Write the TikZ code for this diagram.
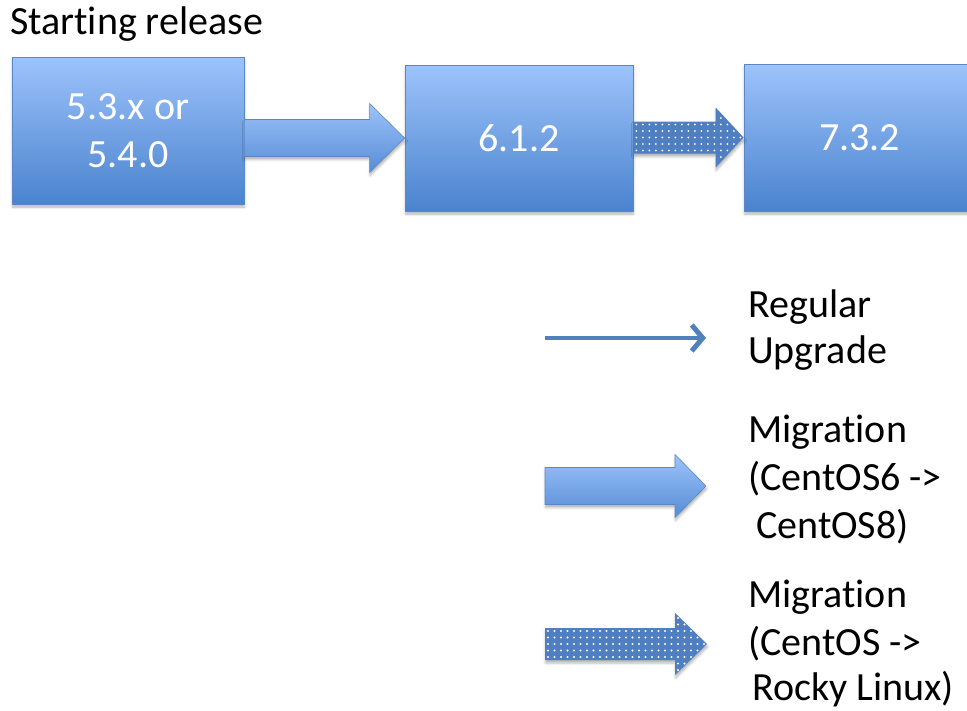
\documentclass[tikz,border=0pt]{standalone}
\usepackage{fontspec}
\setmainfont{Carlito}[Ligatures={NoCommon}]
\usetikzlibrary{calc,shadows.blur,arrows.meta}
\definecolor{boxtop}{HTML}{9DC3FB}
\definecolor{boxbot}{HTML}{4A83CE}
\definecolor{boxline}{HTML}{5A88C6}
\definecolor{dotblue}{HTML}{4F7FC1}
\definecolor{lineblue}{HTML}{4F81BD}
% arrow outline: start, tip, shaft half, head half, head length
\newcommand{\arrowshape}[5]{(#1) ++(0,-#3) -- ($(#2)+(-#5,-#3)$) -- ($(#2)+(-#5,-#4)$) -- (#2)
    -- ($(#2)+(-#5,#4)$) -- ($(#2)+(-#5,#3)$) -- ($(#1)+(0,#3)$) -- cycle}
\newcommand{\barrow}[6]{\path[#1] \arrowshape{#2}{#3}{#4}{#5}{#6};}
\newcommand{\dotarrow}[6]{% length of box (px) as #6
  \path[dotbase] \arrowshape{#1}{#2}{#3}{#4}{#5};
  \begin{scope}
    \clip \arrowshape{#1}{#2}{#3}{#4}{#5};
    \foreach \dx in {3,9.5,...,#6} {
      \foreach \dy in {-32.5,-26,...,33} {
        \fill[white] ($(#1)+(\dx,\dy)$) circle (1.05pt);
      }
    }
  \end{scope}}
\begin{document}
\begin{tikzpicture}[x=1pt,y=-1pt,
  bigfont/.style={font=\fontsize{40}{47.5}\selectfont},
  txt/.style={bigfont, inner sep=0pt, anchor=base west, text=black},
  softshadow/.style={blur shadow={shadow xshift=0.5pt, shadow yshift=-3pt, shadow blur radius=2.5pt, shadow opacity=30}},
  verbox/.style={draw=boxline, line width=0.8pt, top color=boxtop, bottom color=boxbot,
    text=white, bigfont, align=center, inner sep=0pt, softshadow},
  shadedarrow/.style={draw=boxline, line width=0.6pt, top color=boxtop, bottom color=boxbot!85!boxtop, softshadow},
  dotbase/.style={fill=dotblue, softshadow},
  thinarrow/.style={draw=lineblue, line width=4.5pt, -{Straight Barb[length=11pt, width=26pt, line width=5pt]}}
]
\useasboundingbox (0,0) rectangle (967,710);

\node[txt] (start) at (10,34) {Starting release};

\node[verbox, minimum width=232pt, minimum height=147pt] (box1) at (128,130.5) {5.3.x or\\5.4.0};
\node[verbox, minimum width=228pt, minimum height=146pt] (box2) at (519,138) {6.1.2};
\node[verbox, minimum width=231pt, minimum height=147pt] (box3) at (859.5,137.5) {7.3.2};

% connectors between boxes
\coordinate (a1s) at (box1.east |- box2.west);
\barrow{shadedarrow}{a1s}{box2.west}{18.5}{34.5}{35}
\coordinate (a2s) at (box2.east |- box3.west);
\dotarrow{a2s}{box3.west}{16}{30}{28}{115}

% legend
\coordinate (lg1s) at (545,338);
\coordinate (lg1t) at (706,338);
\draw[thinarrow] (lg1s) -- (lg1t);
\node[txt] (reg1) at (748,317) {Regular};
\node[txt] (reg2) at (748,363) {Upgrade};

\coordinate (lg2s) at (545,486);
\coordinate (lg2t) at (706,486);
\barrow{shadedarrow}{lg2s}{lg2t}{18.5}{31.5}{31}
\node[txt] (mig1) at (748,442) {Migration};
\node[txt] (mig2) at (748,490) {(CentOS6 ->};
\node[txt] (mig3) at (756,538) {CentOS8)};

\coordinate (lg3s) at (545,644);
\coordinate (lg3t) at (707,644);
\dotarrow{lg3s}{lg3t}{16}{31}{32}{165}
\node[txt] (rk1) at (748,607) {Migration};
\node[txt] (rk2) at (748,655) {(CentOS ->};
\node[txt] (rk3) at (752,700) {Rocky Linux)};
\end{tikzpicture}
\end{document}
